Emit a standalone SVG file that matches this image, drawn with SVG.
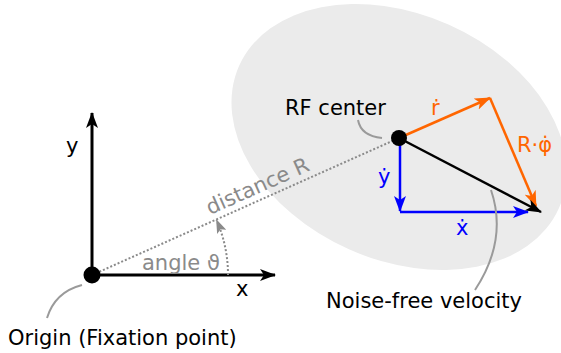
<svg xmlns="http://www.w3.org/2000/svg" width="561" height="353" viewBox="0 0 561 353">
<style>
text{font-family:"DejaVu Sans",sans-serif;font-size:21px}
.g{fill:#8a8a8a}.o{fill:#ff6600}.b{fill:#0000ff}.k{fill:#000}
.lead{fill:none;stroke:#9a9a9a;stroke-width:2}
</style>
<defs>
<marker id="ak" viewBox="0 0 16 12" refX="15" refY="6" markerWidth="16" markerHeight="12" markerUnits="userSpaceOnUse" orient="auto"><path d="M0,0 L16,6 L0,12 L4,6 Z" fill="#000"/></marker>
<marker id="ao" viewBox="0 0 16 12" refX="15" refY="6" markerWidth="16" markerHeight="12" markerUnits="userSpaceOnUse" orient="auto"><path d="M0,0 L16,6 L0,12 L4,6 Z" fill="#ff6600"/></marker>
<marker id="ab" viewBox="0 0 16 12" refX="15" refY="6" markerWidth="16" markerHeight="12" markerUnits="userSpaceOnUse" orient="auto"><path d="M0,0 L16,6 L0,12 L4,6 Z" fill="#0000ff"/></marker>
<marker id="ag" viewBox="0 0 14 10" refX="13" refY="5" markerWidth="14" markerHeight="10" markerUnits="userSpaceOnUse" orient="auto"><path d="M0,0 L14,5 L0,10 L3,5 Z" fill="#8a8a8a"/></marker>
</defs>
<g id="rf-field"><ellipse cx="399" cy="137" rx="175" ry="123" transform="rotate(24 399 137)" fill="#ebebeb"/></g>
<g id="connectors">
<line x1="92" y1="275" x2="92" y2="113" stroke="#000" stroke-width="3" marker-end="url(#ak)"/>
<line x1="92" y1="275" x2="275" y2="275" stroke="#000" stroke-width="3" marker-end="url(#ak)"/>
<line x1="92" y1="275" x2="399" y2="138" stroke="#8a8a8a" stroke-width="2" stroke-dasharray="2 2"/>
<path d="M228,275 A136,136 0 0 0 216.5,220" fill="none" stroke="#8a8a8a" stroke-width="2" stroke-dasharray="2 2" marker-end="url(#ag)"/>
<line x1="399" y1="138" x2="490" y2="98" stroke="#ff6600" stroke-width="2.5" marker-end="url(#ao)"/>
<line x1="490" y1="98" x2="536" y2="206" stroke="#ff6600" stroke-width="2.5" marker-end="url(#ao)"/>
<line x1="399" y1="138" x2="541" y2="212" stroke="#000" stroke-width="2.5" marker-end="url(#ak)"/>
<line x1="400" y1="138" x2="400" y2="211" stroke="#0000ff" stroke-width="2.5" marker-end="url(#ab)"/>
<line x1="400" y1="212" x2="528" y2="212" stroke="#0000ff" stroke-width="2.5" marker-end="url(#ab)"/>
<path class="lead" d="M358,120 Q361,136 382,138"/>
<path class="lead" d="M82,285 Q55,292 47,318"/>
<path class="lead" d="M491,190 Q508,240 475,290"/>
</g>
<g id="origin"><circle cx="92" cy="275" r="8.5" fill="#000"/><text class="k" x="8" y="345">Origin (Fixation point)</text></g>
<g id="rf-center"><circle cx="399" cy="138" r="8" fill="#000"/><text class="k" x="285" y="115">RF center</text></g>
<g id="axis-labels"><text class="k" x="66" y="153">y</text><text class="k" x="236" y="296">x</text></g>
<g id="geometry-labels"><text class="g" x="142" y="270">angle ϑ</text><text class="g" x="210" y="215" transform="rotate(-24 210 215)">distance R</text></g>
<g id="velocity-labels">
<text class="o" x="431" y="115">ṙ</text>
<text class="o" x="517" y="152">R·φ̇</text>
<text class="b" x="378" y="184">ẏ</text>
<text class="b" x="456" y="235">ẋ</text>
<text class="k" x="326" y="308">Noise-free velocity</text>
</g>
</svg>
